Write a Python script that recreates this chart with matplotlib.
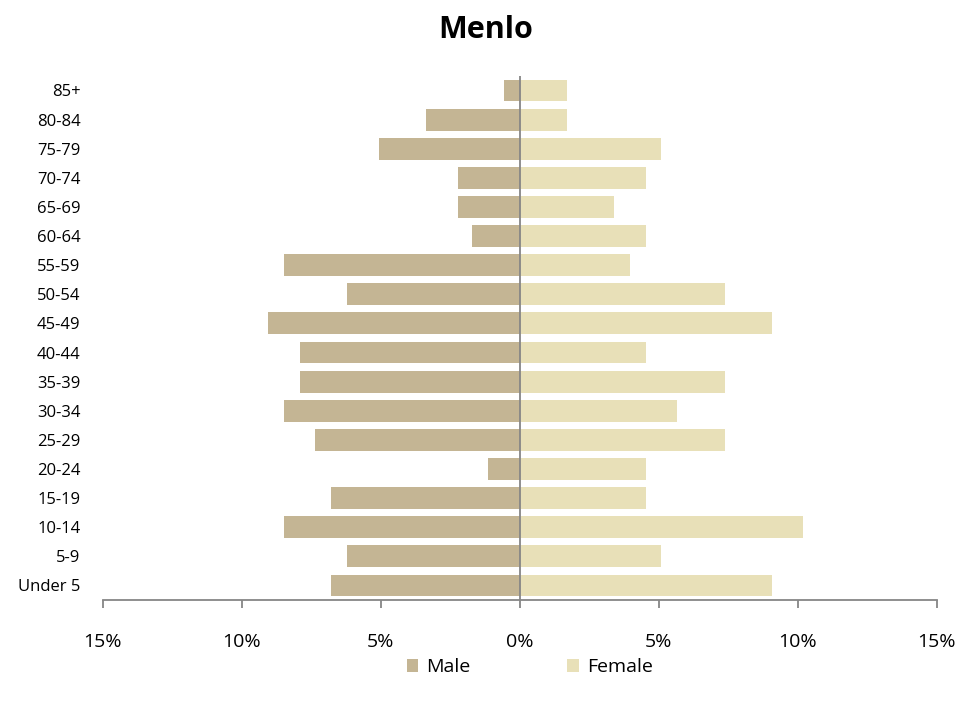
import matplotlib
matplotlib.use("Agg")
import matplotlib.pyplot as plt
from matplotlib.ticker import FixedLocator, FuncFormatter

age_groups = ["Under 5", "5-9", "10-14", "15-19", "20-24", "25-29", "30-34", "35-39",
              "40-44", "45-49", "50-54", "55-59", "60-64", "65-69", "70-74", "75-79",
              "80-84", "85+"]
male = [6.8, 6.22, 8.49, 6.8, 1.15, 7.37, 8.49, 7.91, 7.91, 9.06, 6.22, 8.49,
        1.73, 2.23, 2.23, 5.07, 3.38, 0.58]
female = [9.06, 5.07, 10.18, 4.53, 4.53, 7.37, 5.65, 7.37, 4.53, 9.06, 7.37, 3.96,
          4.53, 3.38, 4.53, 5.07, 1.69, 1.69]
xticks = [-15, -10, -5, 0, 5, 10, 15]

male_color = "#C4B594"
female_color = "#E8E0B8"
axis_color = "#868686"

plt.rcParams['font.family'] = ['Open Sans', 'DejaVu Sans']

fig = plt.figure(figsize=(9.79, 7.13), dpi=100)
ax = fig.add_axes([0.105, 0.1585, 0.852, 0.735])

y = list(range(len(age_groups)))
ax.barh(y, [-m for m in male], height=0.75, color=male_color, label="Male")
ax.barh(y, female, height=0.75, color=female_color, label="Female")

ax.set_xlim(-15, 15)
ax.set_ylim(-0.5, len(age_groups) - 0.5)
ax.axvline(0, color=axis_color, lw=1.3, zorder=3)

for s in ["top", "right", "left"]:
    ax.spines[s].set_visible(False)
ax.spines["bottom"].set_color(axis_color)
ax.spines["bottom"].set_linewidth(1.3)

ax.xaxis.set_major_locator(FixedLocator(xticks))
ax.xaxis.set_major_formatter(FuncFormatter(lambda v, p: f"{abs(int(round(v)))}%"))
ax.tick_params(axis="x", direction="out", length=6, width=1.3, color=axis_color,
               labelsize=14, pad=18, labelcolor="black")
ax.set_yticks(y)
ax.set_yticklabels(age_groups)
ax.tick_params(axis="y", length=0, labelsize=12, pad=16)

fig.text(0.496, 0.958, "Menlo", ha="center", va="center", fontsize=22, fontweight="bold")

leg = fig.legend(loc="center", bbox_to_anchor=(0.541, 0.064), ncol=2, frameon=False,
                 fontsize=14, handlelength=0.6, handleheight=0.6, columnspacing=5.0,
                 handletextpad=0.4)

fig.savefig("out.png", dpi=100)
